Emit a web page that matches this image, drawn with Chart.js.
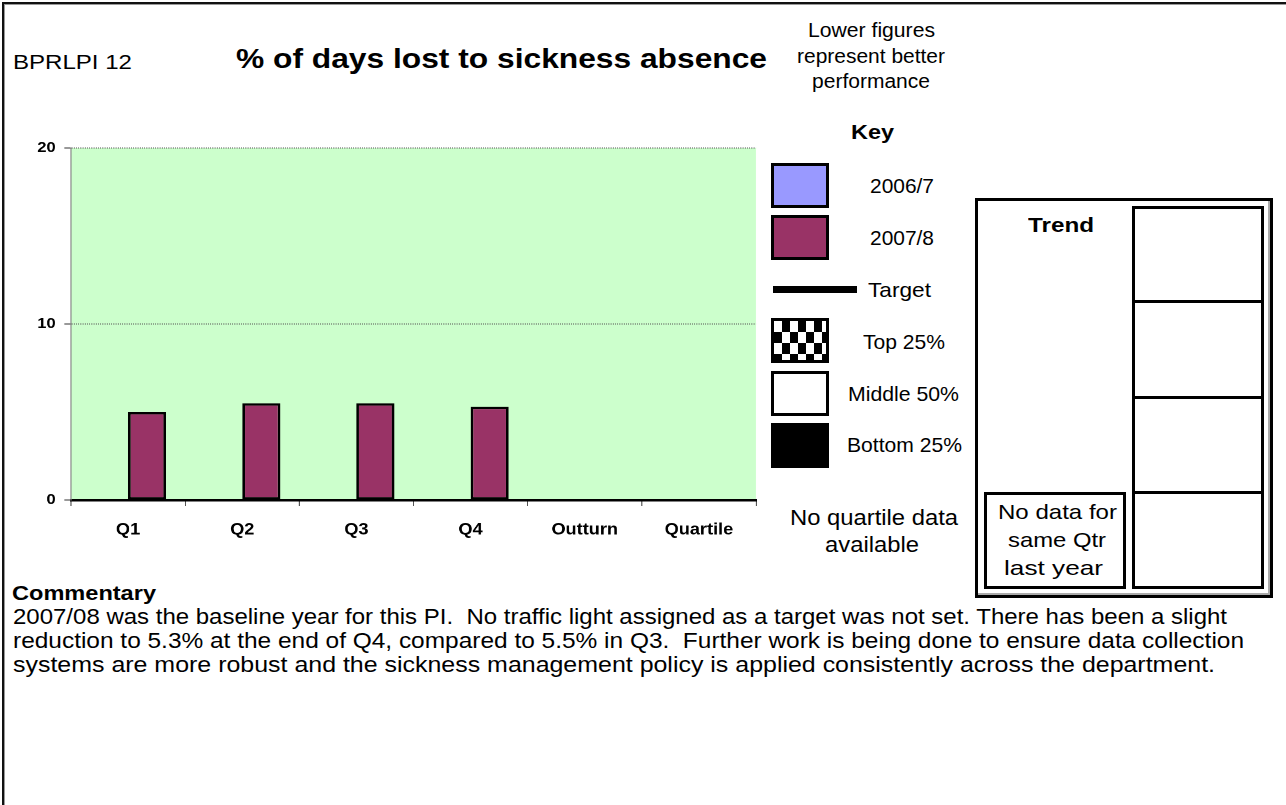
<!DOCTYPE html>
<html>
<head>
<meta charset="utf-8">
<title>BPRLPI 12 - % of days lost to sickness absence</title>
<script src="https://cdn.jsdelivr.net/npm/chart.js@4.4.1/dist/chart.umd.min.js"></script>
<style>
  html, body { margin: 0; padding: 0; background: #fff; width: 1286px; height: 805px; overflow: hidden;
    font-family: "Liberation Sans", Arial, Helvetica, sans-serif; color: #000; }
  .frame { position: absolute; left: 2px; top: 2px; width: 1400px; height: 900px;
    border-top: 2px solid #111; border-left: 2px solid #111; box-shadow: inset 1px 1px 0 #999; }
  .t { position: absolute; white-space: pre; line-height: 1; transform-origin: 0 50%; }
  .b { font-weight: bold; }
  .box { position: absolute; box-sizing: border-box; border: 3px solid #000; }
  #chartWrap { position: absolute; left: 0; top: 130px; width: 700px; height: 440px;
    transform: scaleX(1.1); transform-origin: 0 0; }
  .checker { background: conic-gradient(#000 25%, #fff 0 50%, #000 0 75%, #fff 0) 0 0 / 16px 22px; }
</style>
</head>
<body>
<div class="frame"></div>

<!-- heading -->
<span class="t" data-w="119" style="left:13px;top:51px;font-size:21px">BPRLPI 12</span>
<span class="t b" data-w="531" style="left:236px;top:45px;font-size:28px">% of days lost to sickness absence</span>
<span class="t" data-w="127" data-cx="871" style="top:20px;font-size:20px">Lower figures</span>
<span class="t" data-w="148" data-cx="871" style="top:46px;font-size:20px">represent better</span>
<span class="t" data-w="118" data-cx="871" style="top:71px;font-size:20px">performance</span>

<!-- key -->
<span class="t b" data-w="43" data-cx="872" style="top:121px;font-size:21px">Key</span>
<div class="box" style="left:771px;top:163px;width:58px;height:45px;background:#9999FF"></div>
<div class="box" style="left:771px;top:215px;width:58px;height:45px;background:#993366"></div>
<div style="position:absolute;left:773px;top:286px;width:84px;height:7px;background:#000"></div>
<div class="box checker" style="left:771px;top:318px;width:58px;height:45px"></div>
<div class="box" style="left:771px;top:371px;width:58px;height:45px;background:#fff"></div>
<div class="box" style="left:771px;top:423px;width:58px;height:45px;background:#000"></div>
<span class="t" data-w="64" style="left:870px;top:175px;font-size:21px">2006/7</span>
<span class="t" data-w="64" style="left:870px;top:227px;font-size:21px">2007/8</span>
<span class="t" data-w="63" style="left:868px;top:279px;font-size:21px">Target</span>
<span class="t" data-w="82" style="left:863px;top:331px;font-size:21px">Top 25%</span>
<span class="t" data-w="111" style="left:848px;top:383px;font-size:21px">Middle 50%</span>
<span class="t" data-w="115" style="left:847px;top:434px;font-size:21px">Bottom 25%</span>
<span class="t" data-w="168" data-cx="874" style="top:507px;font-size:22px">No quartile data</span>
<span class="t" data-w="94" data-cx="872" style="top:534px;font-size:22px">available</span>

<!-- trend panel -->
<div class="box" style="left:975px;top:198px;width:298px;height:400px;box-shadow:inset -2px -2px 0 #aaa"></div>
<div class="box" style="left:1132px;top:206px;width:132px;height:383px"></div>
<div style="position:absolute;left:1132px;top:300px;width:132px;height:3px;background:#000"></div>
<div style="position:absolute;left:1132px;top:396px;width:132px;height:3px;background:#000"></div>
<div style="position:absolute;left:1132px;top:491px;width:132px;height:3px;background:#000"></div>
<div class="box" style="left:984px;top:492px;width:142px;height:97px"></div>
<span class="t b" data-w="66" data-cx="1061" style="top:214px;font-size:21px">Trend</span>
<span class="t" data-w="119" data-cx="1057" style="top:501px;font-size:21px">No data for</span>
<span class="t" data-w="98" data-cx="1057" style="top:529px;font-size:21px">same Qtr</span>
<span class="t" data-w="99" data-cx="1053" style="top:557px;font-size:21px">last year</span>

<!-- commentary -->
<span class="t b" data-w="144" style="left:12px;top:582px;font-size:21px">Commentary</span>
<span class="t" data-w="1214" style="left:13px;top:606px;font-size:22px">2007/08 was the baseline year for this PI.  No traffic light assigned as a target was not set. There has been a slight</span>
<span class="t" data-w="1231" style="left:13px;top:630px;font-size:22px">reduction to 5.3% at the end of Q4, compared to 5.5% in Q3.  Further work is being done to ensure data collection</span>
<span class="t" data-w="1202" style="left:13px;top:654px;font-size:22px">systems are more robust and the sickness management policy is applied consistently across the department.</span>

<div id="chartWrap"><canvas id="chart" width="700" height="440"></canvas></div>

<script>
// Quarterly values, % of working days lost to sickness absence
const categories = ['Q1', 'Q2', 'Q3', 'Q4', 'Outturn', 'Quartile'];
const values2006 = [null, null, null, null, null, null];
const values2007 = [5.0, 5.5, 5.5, 5.3, null, null];
const yTickValues = [0, 10, 20];

// Stretch each text run to its set width
function fitTexts() {
  document.querySelectorAll('.t[data-w]').forEach(el => {
    const target = parseFloat(el.dataset.w);
    const natural = el.getBoundingClientRect().width;
    el.style.transform = 'scaleX(' + (target / natural) + ')';
    if (el.dataset.cx) el.style.left = (parseFloat(el.dataset.cx) - target / 2) + 'px';
  });
}
fitTexts();

// Horizontal stretch applied to the chart wrapper
const SX = 1.1;
const CANVAS_W = 700;
const PLOT_LEFT = 71, PLOT_RIGHT = 756;

const plotFill = {
  id: 'plotFill',
  beforeDraw(chart) {
    const { ctx, chartArea: a } = chart;
    ctx.save();
    ctx.fillStyle = '#CCFFCC';
    ctx.fillRect(a.left, a.top, a.right - a.left, a.bottom - a.top);
    ctx.restore();
  }
};

Chart.defaults.font.family = '"Liberation Sans", Arial, sans-serif';
Chart.defaults.color = '#000';

new Chart(document.getElementById('chart'), {
  type: 'bar',
  data: {
    labels: categories,
    datasets: [
      { label: '2006/7', data: values2006, backgroundColor: '#9999FF', borderColor: '#000', borderWidth: 2.4, borderSkipped: false },
      { label: '2007/8', data: values2007, backgroundColor: '#993366', borderColor: '#000', borderWidth: 2.4, borderSkipped: false }
    ]
  },
  options: {
    responsive: false,
    devicePixelRatio: 2,
    animation: false,
    categoryPercentage: 0.666,
    barPercentage: 1.0,
    layout: { padding: { top: 18, right: CANVAS_W - PLOT_RIGHT / SX, left: 0, bottom: 0 } },
    plugins: { legend: { display: false }, tooltip: { enabled: false }, title: { display: false } },
    scales: {
      x: {
        type: 'category',
        offset: true,
        grid: { display: true, drawOnChartArea: false, drawTicks: true, tickLength: 6, color: '#555', lineWidth: 1, offset: true },
        border: { display: true, color: '#000', width: 2.5 },
        ticks: { font: { size: 16.5, weight: 'bold' }, padding: 14, maxRotation: 0, autoSkip: false },
        afterFit(s) { s.height = 70; }
      },
      y: {
        min: 0,
        max: 20,
        afterBuildTicks(s) { s.ticks = yTickValues.map(v => ({ value: v })); },
        grid: { color: '#555', lineWidth: 1, drawTicks: true, tickLength: 6, tickColor: '#333', tickBorderDash: [] },
        border: { display: true, color: '#888', width: 1, dash: [1, 1] },
        ticks: { font: { size: 15, weight: 'bold' }, padding: 8 },
        afterFit(s) { s.width = PLOT_LEFT / SX; }
      }
    }
  },
  plugins: [plotFill]
});
</script>
</body>
</html>
